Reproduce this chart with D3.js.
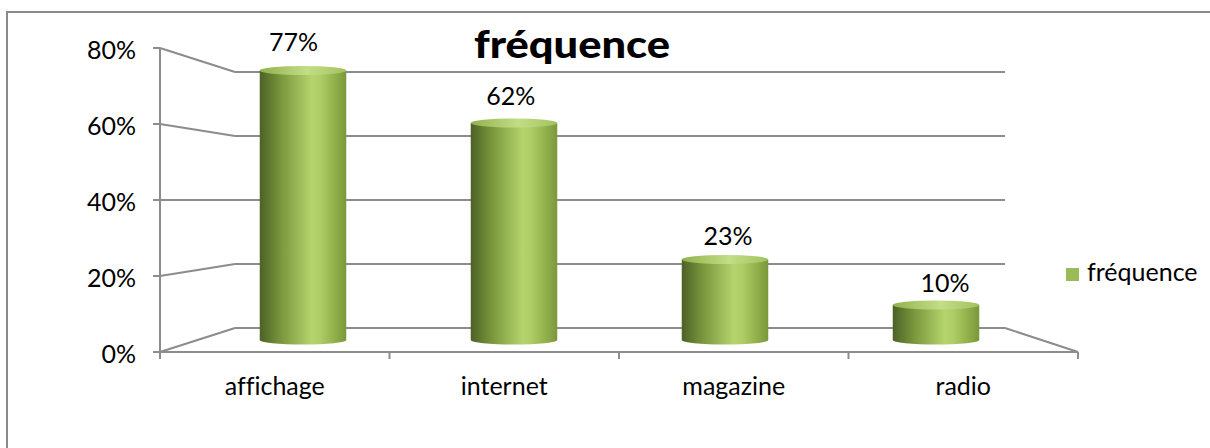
<!DOCTYPE html>
<html>
<head>
<meta charset="utf-8">
<script src="https://cdn.jsdelivr.net/npm/d3@7"></script>
<style>
  html, body { margin: 0; padding: 0; background: #ffffff; }
  svg { display: block; }
  text { font-family: Lato, "Open Sans", sans-serif; fill: #000; font-variant-ligatures: none; }
</style>
</head>
<body>
<div id="chart"></div>
<script>
// Share of respondents per advertising channel
const categories = ["affichage", "internet", "magazine", "radio"];
const values = [77, 62, 23, 10];
const tickValues = [0, 20, 40, 60, 80];
const tickLabels = ["0%", "20%", "40%", "60%", "80%"];
const seriesName = "fréquence";
const titleText = "fréquence";

const W = 1210, H = 448;
const svg = d3.select("#chart").append("svg")
  .attr("width", W).attr("height", H);

// 3D box: front plane and back plane of the plot
const front = { x0: 160, x1: 1078, y0: 352, y1: 48 };
const back  = { x0: 235, x1: 1005, y0: 328, y1: 72 };
const lerp = (a, b, t) => a + (b - a) * t;

// scales at an arbitrary depth t (0 = front, 1 = back)
function xAt(t) {
  return d3.scaleBand().domain(categories)
    .range([lerp(front.x0, back.x0, t), lerp(front.x1, back.x1, t)]);
}
function yAt(t) {
  return d3.scaleLinear().domain([0, 80])
    .range([lerp(front.y0, back.y0, t), lerp(front.y1, back.y1, t)]);
}
const xFront = xAt(0), yFront = yAt(0);
const xBack = xAt(1), yBack = yAt(1);
const yMid = yAt(0.5);
const xMid = xAt(0.5).paddingInner(0.59).paddingOuter(0.295);
const xLbl = xAt(1 / 3), yLbl = yAt(1 / 3);

const grid = "#8c8c8c";

// outer chart border
svg.append("rect")
  .attr("x", 7).attr("y", 12).attr("width", W + 10).attr("height", H + 10)
  .attr("fill", "none").attr("stroke", "#8a8a8a").attr("stroke-width", 2);

const defs = svg.append("defs");
const bodyGrad = defs.append("linearGradient").attr("id", "cylBody")
  .attr("x1", "0%").attr("x2", "100%").attr("y1", "0%").attr("y2", "0%");
[[0, "#4c6126"], [0.25, "#7a983d"], [0.6, "#b4d46d"], [0.7, "#aecd66"], [0.88, "#8fae49"], [1, "#7a973b"]]
  .forEach(([o, c]) => bodyGrad.append("stop").attr("offset", o).attr("stop-color", c));
const capGrad = defs.append("linearGradient").attr("id", "cylTop")
  .attr("x1", "0%").attr("x2", "100%").attr("y1", "0%").attr("y2", "0%");
[[0, "#93b14e"], [0.55, "#c2de86"], [1, "#a3c25e"]]
  .forEach(([o, c]) => capGrad.append("stop").attr("offset", o).attr("stop-color", c));

const g = svg.append("g")
  .attr("fill", "none").attr("stroke", grid).attr("stroke-width", 2);

// back wall gridlines
g.selectAll("line.back").data(tickValues).join("line")
  .attr("class", "back")
  .attr("x1", back.x0).attr("x2", back.x1)
  .attr("y1", d => yBack(d)).attr("y2", d => yBack(d));
// side wall gridlines
g.selectAll("line.side").data(tickValues).join("line")
  .attr("class", "side")
  .attr("x1", front.x0).attr("x2", back.x0)
  .attr("y1", d => yFront(d)).attr("y2", d => yBack(d));
// floor right edge
g.append("line")
  .attr("x1", back.x1).attr("y1", yBack(0))
  .attr("x2", front.x1).attr("y2", yFront(0));
// front value axis + ticks
g.append("line")
  .attr("x1", front.x0).attr("x2", front.x0)
  .attr("y1", yFront(0)).attr("y2", yFront(80));
g.selectAll("line.ytick").data(tickValues).join("line")
  .attr("class", "ytick")
  .attr("x1", front.x0 - 7).attr("x2", front.x0)
  .attr("y1", d => yFront(d)).attr("y2", d => yFront(d));
// front category axis + ticks at band edges
g.append("line")
  .attr("x1", front.x0).attr("x2", front.x1)
  .attr("y1", yFront(0)).attr("y2", yFront(0));
const edges = categories.map(c => xFront(c)).concat([front.x1]);
g.selectAll("line.xtick").data(edges).join("line")
  .attr("class", "xtick")
  .attr("x1", d => d).attr("x2", d => d)
  .attr("y1", yFront(0)).attr("y2", yFront(0) + 7);

// value axis labels
svg.selectAll("text.ylab").data(tickValues).join("text")
  .attr("class", "ylab")
  .attr("x", 136).attr("y", d => yFront(d) + 10.5)
  .attr("text-anchor", "end").attr("font-size", 25)
  .text((d, i) => tickLabels[i]);

// category labels
svg.selectAll("text.xlab").data(categories).join("text")
  .attr("class", "xlab")
  .attr("x", d => xFront(d) + xFront.bandwidth() / 2)
  .attr("y", 395)
  .attr("text-anchor", "middle").attr("font-size", 25)
  .text(d => d);

// cylinders
const ry = 4.5;
const data = categories.map((c, i) => ({ c, v: values[i] }));
const cyl = svg.selectAll("g.cyl").data(data).join("g").attr("class", "cyl");
cyl.append("path")
  .attr("fill", "url(#cylBody)")
  .attr("d", d => {
    const x0 = xMid(d.c), x1 = x0 + xMid.bandwidth(), rx = xMid.bandwidth() / 2;
    const yt = yMid(d.v), yb = yMid(0);
    return `M${x0},${yt} L${x0},${yb} A${rx},${ry} 0 0 0 ${x1},${yb} L${x1},${yt} Z`;
  });
cyl.append("ellipse")
  .attr("fill", "url(#cylTop)")
  .attr("cx", d => xMid(d.c) + xMid.bandwidth() / 2)
  .attr("cy", d => yMid(d.v))
  .attr("rx", xMid.bandwidth() / 2).attr("ry", ry);

// value labels
svg.selectAll("text.val").data(data).join("text")
  .attr("class", "val")
  .attr("x", d => xLbl(d.c) + xLbl.bandwidth() / 2)
  .attr("y", d => yLbl(d.v) - 16)
  .attr("text-anchor", "middle").attr("font-size", 25)
  .text(d => d.v + "%");

// title
svg.append("text")
  .attr("x", 572).attr("y", 58)
  .attr("text-anchor", "middle")
  .attr("font-size", 37).attr("font-weight", 900)
  .attr("textLength", 196).attr("lengthAdjust", "spacingAndGlyphs")
  .text(titleText);

// legend
const lg = svg.append("g").attr("transform", "translate(1066,268)");
lg.append("rect").attr("width", 13).attr("height", 13).attr("fill", "#9bbb59");
lg.append("text").attr("x", 21).attr("y", 13).attr("font-size", 25).text(seriesName);
</script>
</body>
</html>
